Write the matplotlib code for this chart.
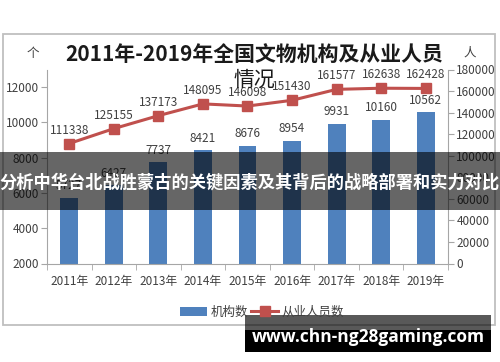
import matplotlib.pyplot as plt
from matplotlib.patches import Rectangle

plt.rcParams["font.family"] = ["Noto Sans CJK SC", "DejaVu Sans"]

years = ["2011年", "2012年", "2013年", "2014年", "2015年", "2016年", "2017年", "2018年", "2019年"]
institutions = [5727, 6427, 7737, 8421, 8676, 8954, 9931, 10160, 10562]
staff = [111338, 125155, 137173, 148095, 146098, 151430, 161577, 162638, 162428]

bar_color = "#4F81BD"
line_color = "#C0504D"
axis_color = "#A6A6A6"
text_color = "#404040"

fig = plt.figure(figsize=(5, 3.62), dpi=100)
W, H = 500, 362

# chart frame
fig.patches.append(Rectangle((3 / W, 1 - 325 / H), 492 / W, 291 / H,
                             transform=fig.transFigure, fill=False,
                             edgecolor="#BFBFBF", linewidth=1.3))

ax = fig.add_axes([47 / W, 1 - 263.5 / H, 401 / W, 194 / H])
x = list(range(len(years)))
bars = ax.bar(x, institutions, width=0.4, color=bar_color, zorder=2)
ax.set_xlim(-0.5, len(years) - 0.5)
ax.set_ylim(2000, 13000)
ax.set_yticks(range(2000, 12001, 2000))
ax.set_xticks(x)
ax.set_xticklabels(years)
ax.set_xticks([i - 0.5 for i in range(len(years) + 1)], minor=True)
ax.tick_params(axis="x", which="major", length=0, pad=8, labelsize=8.5, labelcolor=text_color)
ax.tick_params(axis="x", which="minor", length=4, color=axis_color)
ax.tick_params(axis="y", length=4, color=axis_color, labelsize=8.5, labelcolor=text_color, pad=2)
for side in ["top", "right"]:
    ax.spines[side].set_visible(False)
for side in ["left", "bottom"]:
    ax.spines[side].set_color(axis_color)
for rect, val in zip(bars, institutions):
    ax.annotate(str(val), (rect.get_x() + rect.get_width() / 2, val),
                xytext=(0, 4), textcoords="offset points", ha="center", va="bottom",
                fontsize=8.5, color=text_color)

ax2 = ax.twinx()
ax2.plot(x, staff, color=line_color, linewidth=2.2, marker="s", markersize=7, zorder=3)
ax2.set_ylim(0, 180000)
ax2.set_yticks(range(0, 180001, 20000))
ax2.tick_params(axis="y", length=4, color=axis_color, labelsize=8.5, labelcolor=text_color, pad=2)
for side in ["top", "left", "bottom"]:
    ax2.spines[side].set_visible(False)
ax2.spines["right"].set_color(axis_color)
for xi, val in zip(x, staff):
    ax2.annotate(str(val), (xi, val), xytext=(0, 5), textcoords="offset points",
                 ha="center", va="bottom", fontsize=8.5, color=text_color)

fig.text(254 / W, 1 - 54 / H, "2011年-2019年全国文物机构及从业人员", ha="center", va="center",
         fontsize=15, fontweight="semibold", color="#1a1a1a")
fig.text(254 / W, 1 - 80 / H, "情况", ha="center", va="center", fontsize=15, color="#1a1a1a")
fig.text(33 / W, 1 - 53 / H, "个", ha="center", va="center", fontsize=9, color=text_color)
fig.text(470 / W, 1 - 53 / H, "人", ha="center", va="center", fontsize=9, color=text_color)

handles = [bars, ax2.lines[0]]
fig.legend(handles, ["机构数", "从业人员数"], loc="center", bbox_to_anchor=(262 / W, 1 - 312 / H),
           ncol=2, frameon=False, fontsize=9, handlelength=2.2, handletextpad=0.3,
           columnspacing=0.2, labelcolor=text_color)

# overlay banner
fig.patches.append(Rectangle((0, 1 - 210 / H), 1, 58 / H, transform=fig.transFigure,
                             facecolor="black", alpha=0.6, edgecolor="none", zorder=5))
fig.text(0.5, 1 - 183 / H, "分析中华台北战胜蒙古的关键因素及其背后的战略部署和实力对比",
         ha="center", va="center", fontsize=12.4, fontweight="bold", color="white", zorder=6)

# watermark
fig.patches.append(Rectangle((245 / W, 1 - 330 / H), 246 / W, 15 / H, transform=fig.transFigure,
                             facecolor="black", alpha=0.65, edgecolor="none", zorder=5))
fig.patches.append(Rectangle((245 / W, 1 - 352 / H), 246 / W, 22 / H, transform=fig.transFigure,
                             facecolor="black", edgecolor="none", zorder=5))
fig.text(368 / W, 1 - 337 / H, "www.chn-ng28gaming.com", ha="center", va="center",
         fontsize=12.5, fontweight="bold", color="white", zorder=6,
         family=["Open Sans", "DejaVu Sans"])

fig.savefig("out.png", dpi=100)
